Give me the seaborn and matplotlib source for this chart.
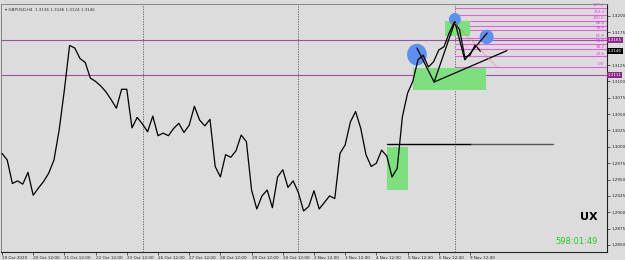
import numpy as np
import pandas as pd
import matplotlib
matplotlib.use("Agg")
import matplotlib.pyplot as plt
import seaborn as sns
from matplotlib.patches import Rectangle, Ellipse

# ---------------- data ----------------
close = [1.2990, 1.2980, 1.2944, 1.2948, 1.2943, 1.2961, 1.2926, 1.2937, 1.2947, 1.2960,
         1.2980, 1.3026, 1.3087, 1.3155, 1.3151, 1.3135, 1.3129, 1.3105, 1.3100, 1.3093,
         1.3084, 1.3072, 1.3059, 1.3088, 1.3088, 1.3029, 1.3045, 1.3035, 1.3023, 1.3047,
         1.3017, 1.3021, 1.3017, 1.3028, 1.3036, 1.3022, 1.3033, 1.3062, 1.3041, 1.3032,
         1.3042, 1.2970, 1.2954, 1.2988, 1.2984, 1.2994, 1.3018, 1.3008, 1.2934, 1.2905,
         1.2925, 1.2934, 1.2907, 1.2954, 1.2965, 1.2938, 1.2948, 1.2930, 1.2902, 1.2909,
         1.2933, 1.2905, 1.2915, 1.2925, 1.2921, 1.2990, 1.3003, 1.3038, 1.3054, 1.3028,
         1.2988, 1.2970, 1.2975, 1.2995, 1.2986, 1.2954, 1.2967, 1.3046, 1.3082, 1.3100,
         1.3133, 1.3140, 1.3122, 1.3130, 1.3148, 1.3153, 1.3174, 1.3191, 1.3179, 1.3137,
         1.3140, 1.3156, 1.3146]
bars = list(range(len(close)))

tick_bars = [0, 6, 12, 18, 24, 30, 36, 42, 48, 54, 60, 66, 72, 78, 84, 90]
tick_labels = ["19 Oct 2020", "20 Oct 12:00", "21 Oct 12:00", "22 Oct 12:00", "23 Oct 12:00",
               "26 Oct 12:00", "27 Oct 12:00", "28 Oct 12:00", "29 Oct 12:00", "30 Oct 12:00",
               "2 Nov 12:00", "3 Nov 12:00", "4 Nov 12:00", "5 Nov 12:00", "6 Nov 12:00",
               "9 Nov 12:00"]
price_ticks = [1.2850, 1.2875, 1.2900, 1.2925, 1.2950, 1.2975, 1.3000, 1.3025,
               1.3050, 1.3075, 1.3100, 1.3125, 1.3150, 1.3175, 1.3200]
price_tick_labels = ["1.2850", "1.2875", "1.2900", "1.2925", "1.2950", "1.2975", "1.3000",
                     "1.3025", "1.3050", "1.3075", "1.3100", "1.3125", "", "1.3175", "1.3200"]

separator_bars = [27.1, 56.9, 87.1]

# drawn objects
zigzag_bars = [79.8, 83.1, 87.1, 89.0, 93.3]
zigzag_prices = [1.3151, 1.3099, 1.3191, 1.3133, 1.3174]
trend_bars = [83.1, 97.1]
trend_prices = [1.3099, 1.3147]
dotted_bars = [87.1, 95.2]
dotted_prices = [1.3189, 1.3122]
support_level = 1.3004
support_bars = [74.0, 90.2, 106.0]
hlines_purple = [1.3163, 1.3110]
purple_labels = ["1.3165", "1.3111"]
current_price = 1.3146

fib_levels = [127.2, 113.0, 100.0, 88.6, 78.6, 61.8, 50.0, 38.2, 23.6, 0.0]
fib_low = 1.3122
fib_high = 1.3193
fib_start = 87.1

# zones (bar0, bar1, price_low, price_high)
zones = [(74.0, 78.1, 1.2934, 1.3000),
         (79.1, 93.1, 1.3087, 1.3120),
         (85.2, 90.0, 1.3170, 1.3192)]
# circles (bar, price, half-width in bars, half-height in price)
circles = [(79.8, 1.3141, 1.9, 0.00165), (87.1, 1.3195, 1.15, 0.00095), (93.2, 1.3168, 1.35, 0.00110)]

# ---------------- figure ----------------
sns.set_theme(style="white")
plt.rcParams['font.family'] = ['DejaVu Sans']
bg = "#dcdcdc"
fig = plt.figure(figsize=(6.25, 2.6), dpi=100, facecolor=bg)
ax = fig.add_axes([1/625, 8/260, 606/625, 248/260])
ax.set_facecolor(bg)

ax.set_xlim(-0.19, 116.35)
ax.set_ylim(1.28393, 1.32183)

# separators
for b in separator_bars:
    ax.axvline(b, color="#555555", lw=0.6, ls=(0, (1.5, 1.5)), zorder=1)

# purple horizontal lines
for p in hlines_purple:
    ax.axhline(p, color="#a050a0", lw=0.8, zorder=1)

# fib lines
rng = fib_high - fib_low
for lv in fib_levels:
    p = fib_low + rng * lv / 100.0
    ax.plot([fib_start, 116.35], [p, p], color="#e060e0", lw=0.8, zorder=1)
    ax.text(115.9, p + 0.00008, f"{lv:.1f}", color="#e040e0", fontsize=3.0,
            ha="right", va="bottom", zorder=5)

# zones
for b0, b1, lo, hi in zones:
    ax.add_patch(Rectangle((b0, lo), b1 - b0, hi - lo, facecolor="#7ddf7d",
                           edgecolor="none", zorder=2))

# support line
ax.plot(support_bars[:2], [support_level] * 2, color="black", lw=1.0, zorder=3)
ax.plot(support_bars[1:], [support_level] * 2, color="#555555", lw=1.0, zorder=3)

# circles
for cb, cp, w, h in circles:
    ax.add_patch(Ellipse((cb, cp), w * 2, h * 2, facecolor="#5b8ff0",
                         edgecolor="none", zorder=3))
ax.add_patch(Ellipse((87.0, 1.3188), 0.9, 0.0007, facecolor="#e8953a",
                     edgecolor="none", zorder=3))

# price line
df = pd.DataFrame({"bar": bars, "close": close})
sns.lineplot(data=df, x="bar", y="close", ax=ax, color="black", lw=0.9, zorder=4)

# drawn lines
ax.plot(zigzag_bars, zigzag_prices, color="black", lw=0.9, zorder=4)
ax.plot(trend_bars, trend_prices, color="black", lw=0.9, zorder=4)
ax.plot(dotted_bars, dotted_prices, color="#e08080", lw=0.7, ls=(0, (1, 1)), zorder=4)

# axes styling
for s in ["top", "left"]:
    ax.spines[s].set_visible(True)
    ax.spines[s].set_color("#777777")
    ax.spines[s].set_linewidth(0.6)
for s in ["right", "bottom"]:
    ax.spines[s].set_color("#222222")
    ax.spines[s].set_linewidth(0.8)

ax.yaxis.tick_right()
ax.set_yticks(price_ticks)
ax.set_yticklabels(price_tick_labels)
ax.tick_params(axis="y", labelsize=3.0, length=2, width=0.5, pad=1, colors="#222222",
               right=True)
ax.set_xticks(tick_bars)
ax.set_xticklabels(tick_labels, ha="left")
ax.tick_params(axis="x", labelsize=3.0, length=2, width=0.5, pad=1, colors="#222222",
               bottom=True)
ax.set_xlabel("")
ax.set_ylabel("")

# price labels on right
def price_box(p, txt, fc, tc):
    ax.text(1.0012, p, txt, transform=ax.get_yaxis_transform(), fontsize=3.0,
            color=tc, ha="left", va="center",
            bbox=dict(boxstyle="square,pad=0.2", fc=fc, ec="none"), zorder=6,
            clip_on=False)

for p, t in zip(hlines_purple, purple_labels):
    price_box(p, t, "#8b2a8b", "white")
price_box(current_price, f"{current_price:.4f}", "black", "white")

ax.text(0.006, 0.985, "\u25be GBPUSD,H4  1.3136 1.3146 1.3124 1.3146", transform=ax.transAxes,
        fontsize=3.0, color="#333333", ha="left", va="top")
ax.text(0.985, 0.12, "UX", transform=ax.transAxes, fontsize=8, fontweight="bold",
        color="black", ha="right", va="bottom")
ax.text(0.985, 0.025, "598:01:49", transform=ax.transAxes, fontsize=6,
        color="#22cc22", ha="right", va="bottom")

fig.savefig("out.png", dpi=100, facecolor=bg)
